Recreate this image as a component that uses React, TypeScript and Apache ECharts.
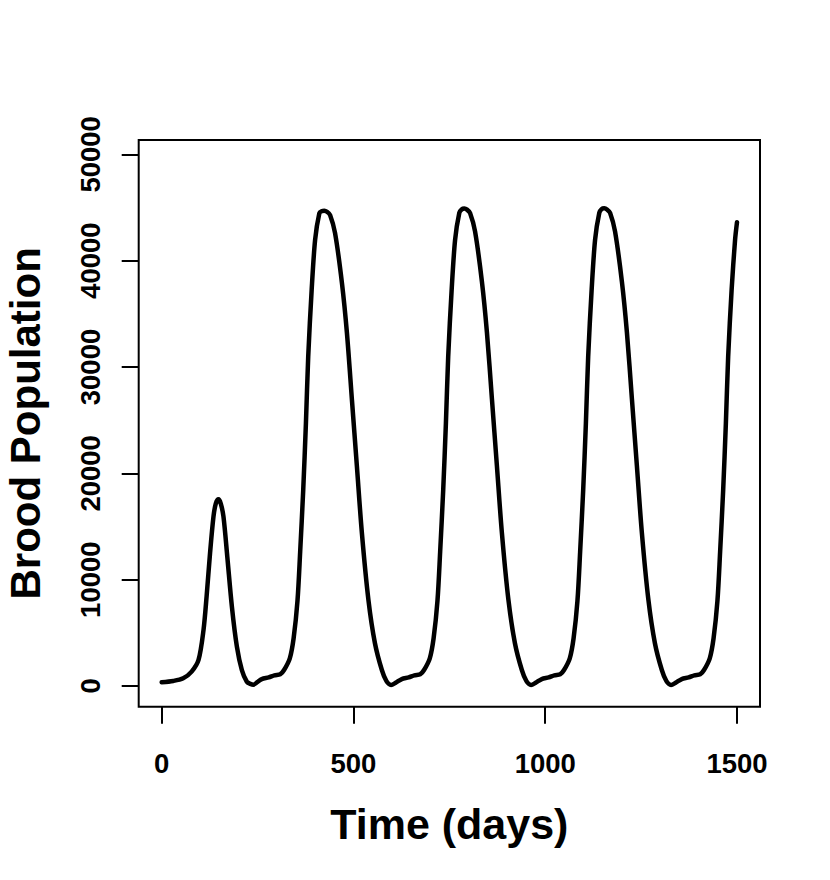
import React, { useEffect, useRef } from "react";
import * as echarts from "echarts";

const xTicks = [0, 500, 1000, 1500];
const yTicks = [0, 10000, 20000, 30000, 40000, 50000];

// Initial transient (first small peak)
const time0 = [0, 30, 56, 78, 96, 109, 117, 126, 135, 141, 148, 154, 161, 171, 183, 196, 209, 222, 231, 239];
const brood0 = [350, 470, 720, 1350, 2450, 5270, 8400, 12480, 15930, 17150, 17550, 17150, 15930, 12160, 7460, 3700, 1500, 400, 200, 120];

// First full cycle
const time1 = [249, 261, 279, 294, 309, 319, 334, 344, 354, 361, 369, 376, 382, 391, 400, 411, 417, 424, 431, 439, 452, 470, 483, 496, 509, 522, 539, 556, 574, 586, 598];
const brood1 = [350, 650, 800, 1000, 1100, 1500, 2600, 4500, 8000, 12600, 18440, 24700, 30980, 37250, 41960, 44470, 44650, 44700, 44600, 44300, 42590, 37880, 33180, 26900, 20630, 14360, 8090, 4020, 1500, 450, 100];

// Second cycle
const time2 = [610, 626, 644, 659, 674, 684, 699, 709, 719, 726, 734, 741, 747, 756, 765, 776, 782, 789, 796, 804, 817, 835, 848, 861, 874, 887, 904, 921, 939, 951, 963];
const brood2 = [300, 650, 800, 1000, 1100, 1500, 2600, 4500, 8000, 12600, 18440, 24700, 30980, 37250, 41960, 44500, 44820, 44900, 44800, 44480, 42750, 38000, 33250, 27000, 20700, 14400, 8100, 4020, 1500, 450, 100];

// Third cycle
const time3 = [975, 991, 1009, 1024, 1039, 1049, 1064, 1074, 1084, 1091, 1099, 1106, 1112, 1121, 1130, 1141, 1147, 1154, 1161, 1169, 1182, 1200, 1213, 1226, 1239, 1252, 1269, 1286, 1304, 1316, 1328];
const brood3 = [300, 650, 800, 1000, 1100, 1500, 2600, 4500, 8000, 12600, 18440, 24700, 30980, 37250, 41960, 44500, 44850, 44920, 44820, 44500, 42750, 38000, 33250, 27000, 20700, 14400, 8100, 4020, 1500, 450, 100];

// Final rise
const time4 = [1340, 1356, 1374, 1389, 1404, 1414, 1429, 1439, 1449, 1456, 1464, 1471, 1477, 1486, 1495, 1500];
const brood4 = [300, 650, 800, 1000, 1100, 1500, 2600, 4500, 8000, 12600, 18440, 24700, 30980, 37250, 41960, 43620];

const FONT = "'Liberation Sans', Arial, Helvetica, sans-serif";

export default function App() {
  const ref = useRef<HTMLDivElement>(null);

  useEffect(() => {
    if (!ref.current) return;
    const chart = echarts.init(ref.current, undefined, { renderer: "svg" });
    const times = [...time0, ...time1, ...time2, ...time3, ...time4];
    const broods = [...brood0, ...brood1, ...brood2, ...brood3, ...brood4];
    const data = times.map((t, i) => [t, broods[i]]);

    chart.setOption({
      animation: false,
      grid: {
        show: true,
        left: 138.7,
        top: 140,
        right: 70,
        bottom: 173.3,
        containLabel: false,
        outerBoundsMode: "none",
        borderColor: "#000",
        borderWidth: 2,
        backgroundColor: "transparent",
      },
      xAxis: {
        type: "value",
        min: -60,
        max: 1560,
        splitLine: { show: false },
        axisLine: { show: false, onZero: false },
        axisTick: {
          show: true,
          inside: false,
          customValues: xTicks,
          length: 17,
          lineStyle: { color: "#000", width: 2 },
        },
        axisLabel: {
          customValues: xTicks,
          formatter: (v: number) => String(v),
          margin: 43,
          fontSize: 27.5,
          fontWeight: "bold",
          color: "#000",
          fontFamily: FONT,
        },
        name: "Time (days)",
        nameLocation: "middle",
        nameGap: 96,
        nameTextStyle: {
          fontSize: 43,
          fontWeight: "bold",
          color: "#000",
          fontFamily: FONT,
        },
      },
      yAxis: {
        type: "value",
        min: -1950,
        max: 51350,
        splitLine: { show: false },
        axisLine: { show: false, onZero: false },
        axisTick: {
          show: true,
          inside: false,
          customValues: yTicks,
          length: 17,
          lineStyle: { color: "#000", width: 2 },
        },
        axisLabel: {
          customValues: yTicks,
          formatter: (v: number) => String(v),
          rotate: 90,
          margin: 34,
          fontSize: 27.5,
          fontWeight: "bold",
          color: "#000",
          fontFamily: FONT,
        },
        name: "Brood Population",
        nameLocation: "middle",
        nameRotate: 90,
        nameGap: 92,
        nameTextStyle: {
          fontSize: 42,
          fontWeight: "bold",
          color: "#000",
          fontFamily: FONT,
        },
      },
      series: [
        {
          type: "line",
          data,
          showSymbol: false,
          smooth: 0.3,
          silent: true,
          lineStyle: { color: "#000", width: 4.5, join: "round", cap: "round" },
        },
      ],
    });

    return () => chart.dispose();
  }, []);

  return (
    <div
      ref={ref}
      style={{ position: "absolute", left: 0, top: 0, width: 830, height: 880, background: "#fff" }}
    />
  );
}
